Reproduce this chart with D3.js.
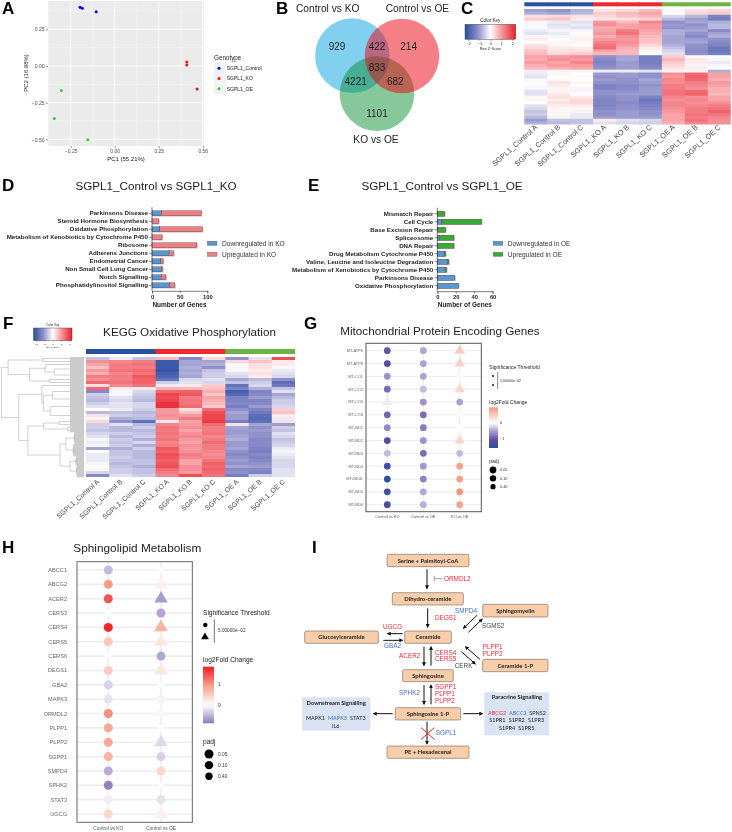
<!DOCTYPE html>
<html><head><meta charset="utf-8">
<script src="https://cdn.jsdelivr.net/npm/d3@7"></script>
<style>
html,body{margin:0;padding:0;background:#fff}
svg{display:block;filter:blur(.3px)}
text{font-family:"Liberation Sans",Arial,sans-serif}
</style></head><body><svg id="c" width="732" height="832"></svg>
<script>
// ---------- A: PCA
const pcaGroups=["SGPL1_Control","SGPL1_KO","SGPL1_OE"];
const pcaColors=["#0000ee","#ee1111","#33cc33"];
const pca1=[-0.197,-0.184,-0.105, 0.409,0.409,0.468, -0.303,-0.343,-0.153];
const pca2=[0.400,0.393,0.370, 0.027,0.007,-0.157, -0.166,-0.357,-0.502];
const pcaGroupIdx=[0,0,0,1,1,1,2,2,2];
const pcaXTicks=[-0.25,0,0.25,0.5];
const pcaYTicks=[-0.5,-0.25,0,0.25];
// ---------- B: Venn
const vennSets=["Control vs KO","Control vs OE","KO vs OE"];
const vennCounts=["929","422","214","833","4221","682","1101"];
// ---------- sample names
const samples=["SGPL1_Control A","SGPL1_Control B","SGPL1_Control C","SGPL1_KO A","SGPL1_KO B","SGPL1_KO C","SGPL1_OE A","SGPL1_OE B","SGPL1_OE C"];
// ---------- C: heatmap rows (z-scores, one row per 3 samples x 3 groups)
const heatC=[
[-1.0,-1.1,-0.8,0.3,0.4,0.7,0.1,0.3,0.4],
[-0.8,-0.9,-0.7,0.5,0.7,0.9,0.0,0.4,0.5],
[0.3,0.4,0.3,0.4,0.6,0.7,-0.4,-0.7,-1.3],
[0.5,0.6,0.2,0.2,0.3,0.4,-0.7,-1.0,-1.4],
[0.1,-0.2,-0.3,1.0,0.7,1.2,-1.1,-0.9,-0.8],
[-0.1,-0.3,-0.2,1.1,0.9,1.0,-1.0,-1.1,-0.7],
[0.05,-0.2,-0.3,0.8,0.9,1.0,-1.1,-1.0,-0.7],
[-0.2,-0.1,-0.1,0.9,1.3,0.9,-0.8,-0.9,-1.2],
[-0.3,-0.2,0.0,1.0,1.4,0.8,-0.8,-1.1,-0.9],
[0.1,-0.1,0.1,0.8,1.1,0.7,-0.9,-1.2,-0.8],
[0.2,0.0,0.15,1.0,1.0,0.6,-0.9,-1.0,-1.1],
[0.0,0.1,0.1,1.2,1.1,0.6,-0.9,-0.9,-1.2],
[0.3,0.1,0.0,1.4,1.0,0.4,-0.8,-1.1,-1.3],
[0.4,0.2,0.2,1.5,0.8,0.2,-0.6,-1.1,-1.5],
[0.6,0.3,0.3,0.9,0.7,0.1,-0.4,-1.2,-1.5],
[0.7,0.4,0.5,0.7,0.7,0.0,-0.3,-1.1,-1.4],
[0.9,1.0,1.1,-1.1,-0.9,-1.4,0.5,0.1,0.0],
[0.8,1.1,1.0,-1.2,-0.9,-1.4,0.7,0.2,-0.1],
[1.0,0.9,1.2,-1.3,-1.0,-1.4,0.5,0.2,-0.2],
[0.8,1.0,1.0,-1.2,-1.0,-1.3,0.4,0.1,-0.1],
[0.7,0.8,0.9,-1.1,-1.0,-1.2,0.3,0.2,0.0],
[0.2,0.1,0.1,-0.2,-0.2,-0.3,0.1,0.1,-0.8],
[-0.2,0.1,0.0,-1.0,-1.0,-1.1,1.1,1.5,0.9],
[-0.3,0.0,0.05,-1.1,-1.0,-1.1,1.0,1.6,0.9],
[-0.1,0.1,0.0,-1.0,-1.1,-0.9,1.2,1.5,0.8],
[0.0,0.3,0.1,-1.1,-1.1,-1.0,1.1,1.3,1.0],
[0.05,0.2,0.0,-1.3,-1.2,-1.1,1.3,1.2,0.9],
[-0.1,0.1,-0.1,-1.3,-1.2,-1.0,1.3,1.1,0.8],
[-0.3,0.1,-0.1,-1.1,-1.1,-1.0,1.4,1.5,0.8],
[-0.3,0.2,0.0,-1.1,-1.0,-1.0,1.4,1.6,0.7],
[0.1,0.3,0.2,-1.2,-1.1,-1.3,1.2,1.1,0.9],
[0.1,0.2,0.4,-1.3,-1.1,-1.5,1.1,1.2,0.9],
[0.0,0.3,0.4,-1.3,-1.2,-1.4,1.2,1.1,1.1],
[-0.3,0.2,0.2,-1.3,-1.1,-1.3,1.2,1.2,1.3],
[-0.4,0.1,0.1,-1.2,-1.1,-1.2,1.1,1.3,1.4],
[-0.6,0.1,-0.1,-1.1,-1.0,-1.1,1.0,1.3,1.6],
[-0.5,0.1,-0.2,-1.1,-1.0,-1.1,0.9,1.4,1.4],
[-0.7,-0.1,-0.2,-1.0,-1.0,-1.0,0.9,1.3,1.2],
[-1.0,-0.6,-0.6,0.2,-0.3,-0.4,0.9,1.4,1.1],
[-0.8,-0.7,-0.6,-0.3,-0.4,-0.5,0.8,1.2,1.1]];
// ---------- F: heatmap rows
const heatF=[
[-0.6,-0.2,-0.6,0.7,-1.2,0.4,-1.1,-0.3,1.8],
[1.1,1.2,1.3,-2.1,-0.9,-0.9,0.4,0.6,0.2],
[0.9,1.3,1.4,-2.1,-0.9,-0.8,0.1,0.3,0.2],
[0.6,1.3,1.3,-2.1,-0.8,-1.1,-0.1,0.3,0.1],
[1.0,1.4,1.5,-2.2,-0.9,-0.6,-0.1,0.2,-0.2],
[0.8,1.2,1.4,-2.0,-0.8,-0.5,-0.3,0.3,-0.3],
[1.3,1.3,1.7,-1.9,-0.9,-0.5,-0.4,0.2,-0.4],
[1.1,1.3,1.6,-1.6,-0.4,-0.3,-0.9,-0.7,-1.1],
[1.5,1.4,1.6,-0.5,-0.3,-0.4,-0.6,-0.5,-1.7],
[0.3,1.2,1.4,-0.2,0.2,0.5,-1.6,-0.4,-1.5],
[1.5,0.2,0.2,0.8,0.7,0.6,-1.3,-0.8,-0.6],
[-1.2,-0.1,-0.4,1.5,1.6,0.8,-2.0,-1.3,-0.3],
[-0.5,-0.1,-0.5,1.9,1.7,0.6,-1.8,-1.2,-0.9],
[-0.6,-0.3,-0.6,1.8,1.3,0.9,-1.3,-1.0,-0.7],
[-0.7,-0.4,-0.7,1.9,1.4,0.8,-1.3,-1.3,-0.5],
[-0.5,-0.3,-0.4,2.1,1.4,0.7,-1.2,-1.2,-0.5],
[-0.3,-0.3,-0.4,2.1,1.5,0.5,-1.4,-1.0,-0.4],
[0.0,-0.2,-0.5,1.0,0.3,1.5,-1.1,-1.3,0.5],
[-0.7,-0.6,-0.7,1.0,0.6,1.8,-0.9,-1.5,0.6],
[0.3,-0.5,-0.6,1.1,1.0,1.9,-1.0,-1.7,0.2],
[0.1,-0.8,-0.7,1.0,1.3,1.9,-1.0,-1.8,-0.2],
[0.4,-1.1,-1.7,0.2,0.9,2.0,-1.4,-1.7,0.3],
[-0.5,-0.3,-0.7,1.2,1.0,1.5,0.3,-0.9,-1.0],
[-0.5,-0.7,-0.5,1.4,1.1,1.3,-0.9,-1.1,-0.5],
[-0.6,-0.7,-0.7,1.3,0.9,1.3,-1.0,-1.0,-0.6],
[-0.4,-0.5,-0.6,1.4,1.1,1.4,-1.0,-1.1,-0.3],
[-0.3,-0.7,-0.5,1.3,1.2,1.2,-0.9,-1.1,-0.4],
[-0.1,-0.5,-0.8,1.4,1.0,1.3,-0.8,-1.2,-0.6],
[-0.2,-0.6,-0.4,1.2,0.9,1.5,-1.0,-1.2,-0.5],
[-0.1,-0.5,-0.8,1.3,1.1,1.3,-1.0,-1.2,-0.4],
[-0.9,-0.8,-0.5,1.7,1.0,1.3,-0.9,-1.3,-0.2],
[0.0,-0.6,-0.7,1.6,1.1,1.2,-1.1,-1.4,-0.1],
[-0.2,-0.6,-0.7,1.8,1.3,1.1,-1.2,-1.2,-0.2],
[-0.2,-0.5,-0.7,1.7,1.2,1.2,-1.1,-1.3,-0.3],
[-0.2,-0.6,-0.6,1.6,0.9,1.4,-1.0,-1.2,-0.4],
[-0.1,-0.7,-0.6,1.7,0.9,1.6,-1.1,-1.1,-0.4],
[0.0,-0.6,-0.8,1.8,1.1,1.5,-0.9,-1.0,-0.4],
[0.1,-0.5,-0.6,1.5,1.1,1.6,-1.2,-1.2,-0.3],
[-0.4,-0.5,-0.6,1.3,1.0,1.5,-1.1,-1.3,-0.3],
[-1.2,-0.3,-0.5,1.2,1.8,1.4,-1.4,-0.5,-0.3]];
// F dendrogram: [height, child, child], numeric leaf = number of rows (40 in total)
const dendroF=[1,
 [0.92,[0.5,1,1],[0.66,[0.47,1,[0.36,2,2]],[0.42,1,1]]],
 [0.79,[0.51,1,[0.49,[0.38,3,2],[0.41,3,3]]],
  [0.68,[0.49,[0.3,1,1],[0.2,1,1]],[0.29,[0.22,[0.12,2,2],[0.13,2,2]],[0.17,[0.1,2,1],[0.09,2,2]]]]]];
const heatTicks=[-2,-1,0,1,2];
const groupBarColors=["#2b4fa2","#ee2a2e","#6cb33f"];
// ---------- D / E: pathway bars
const pathD=["Parkinsons Disease","Steroid Hormone Biosynthesis","Oxidative Phosphorylation","Metabolism of Xenobiotics by Cytochrome P450","Ribosome","Adherens Junctions","Endometrial Cancer","Non Small Cell Lung Cancer","Notch Signalling","Phosphatidylinositol Signalling"];
const downD=[17,0,14,0,0,31,16,17,17,32];
const upD=[72,12,77,18,81,8,4,2,8,9];
const pathE=["Mismatch Repair","Cell Cycle","Base Excision Repair","Spliceosome","DNA Repair","Drug Metabolism Cytochrome P450","Valine, Leucine and Isoleucine Degradation","Metabolism of Xenobiotics by Cytochrome P450","Parkinsons Disease","Oxidative Phosphorylation"];
const downE=[0,5,0,2,0,7.5,11,8.5,19,23];
const upE=[8,43,9,16,18,1.5,1.5,1.5,0,0];
// ---------- G
const genesG=["MT-ATP6","MT-ATP8","MT-CO1","MT-CO2","MT-CO3","MT-CYB","MT-ND1","MT-ND2","MT-ND3","MT-ND4","MT-ND4L","MT-ND5","MT-ND6"];
const compG=["Control vs KO","Control vs OE","KO vs OE"];
const fcG1=[-1.0,-1.15,-0.6,-0.85,-0.1,-0.9,-0.65,-1.2,-0.35,-1.3,-1.5,-1.35,-1.25];
const fcG2=[-0.45,-0.5,-0.5,-0.35,-0.6,-0.85,-0.75,-0.6,-0.85,-0.55,-0.7,-0.45,-0.4];
const fcG3=[0.5,0.45,0.06,0.4,-0.5,0.05,0.0,0.4,-0.35,0.85,0.9,1.0,0.85];
const triG1=[0,0,0,0,1,0,0,0,0,0,0,0,0];
const triG2=[0,0,0,0,0,0,0,0,0,0,0,0,0];
const triG3=[1,1,0,1,0,0,0,1,0,0,0,0,0];
// ---------- H
const genesH=["ABCC1","ABCG2","ACER2","CERS3","CERS4","CERS5","CERS6","DEGS1","GBA2","MAPK3","ORMDL2","PLPP1","PLPP2","SGPP1","SMPD4","SPHK2","STAT3","UGCG"];
const compH=["Control vs KO","Control vs OE"];
const fcH1=[-0.45,0.95,1.45,0.01,1.8,0.55,0.0,0.5,-0.3,-0.2,1.05,0.85,0.85,0.75,-0.55,-0.85,-0.12,0.4];
const fcH2=[0.03,0.15,-0.65,-0.6,0.75,0.25,-0.6,0.25,-0.02,-0.07,-0.05,0.0,-0.25,-0.3,0.4,-0.03,-0.2,0.15];
const triH1=[0,0,0,0,0,0,0,0,0,0,0,0,0,0,0,0,0,0];
const triH2=[0,1,1,0,1,1,0,1,0,0,0,0,1,0,0,0,0,1];
const padjValues=["0.05","0.10","0.40"];
// ---------- I: pathway diagram
const nodeNames=["Serine + Palmitoyl-CoA","Dihydro-ceramide","Sphingomyelin","Glucosylceramide","Ceramide","Ceramide 1-P","Sphingosine","Sphingosine 1-P","PE + Hexadecenal"];
const nodeBoxes=[[291,73,537,110],[307,188,520,225],[578,223,774,261],[44,303,265,340],[344,303,484,340],[578,388,774,425],[338,419,490,455],[316,533,512,570],[291,648,537,685]];
const arrowLines=[[411,118,411,176],[413,235,413,292],[338,311,292,311],[280,331,338,331],[402,350,402,407],[423,407,423,350],[402,465,402,523],[423,523,423,465],[562,255,520,295],[535,307,577,267],[570,388,526,350],[514,365,556,402],[308,551,250,551],[520,551,578,551],[411,575,411,642]];
const enzymeNames=["ORMDL2","SMPD4","DEGS1","SGMS2","UGCG","GBA2","ACER2","CERS4","CERS5","PLPP1","PLPP2","CERK","SPHK2","SGPP1","PLPP1","PLPP2","SGPL1"];
const enzymeCls=["r","b","r","k","r","b","r","r","r","r","r","k","b","r","r","r","b"];
const enzymeAt=[[462,152],[495,248],[435,270],[576,294],[279,298],[282,354],[327,384],[435,375],[435,393],[578,356],[578,377],[494,415],[327,496],[435,477],[435,499],[435,520],[437,616]];
const sigGenes=["MAPK1","MAPK3","STAT3","IL6","ABCG2","ABCC1","SPNS2","S1PR1","S1PR2","S1PR3","S1PR4","S1PR5"];
const sigCls=["k","b","k","k","r","b","k","k","k","k","k","k"];
const sigAt=[[48,571],[114,571],[180,571],[126,595],[594,555],[657,555],[718,555],[598,577],[656,577],[714,577],[627,601],[685,601]];

const svg=d3.select("#c");
const defs=svg.append("defs");
const panelLetters=[["A",2,14],["B",276,14],["C",461,14],["D",2,190.5],["E",308,190.5],["F",3,329],["G",304,329],["H",2,553],["I",312,553]];
svg.selectAll("text.pl").data(panelLetters).join("text").attr("class","pl").attr("x",d=>d[1]).attr("y",d=>d[2]).attr("font-size",17).attr("font-weight","bold").attr("fill","#000").text(d=>d[0]);

function txt(g,x,y,s,size,opt={}){
  const t=g.append("text").attr("x",x).attr("y",y).attr("font-size",size).attr("fill",opt.fill||"#222").text(s);
  if(opt.anchor)t.attr("text-anchor",opt.anchor);
  if(opt.weight)t.attr("font-weight",opt.weight);
  if(opt.rot!=null)t.attr("transform",`rotate(${opt.rot},${x},${y})`);
  if(opt.family)t.style("font-family",opt.family);
  return t;
}

// ===== A
(function(){
  const g=svg.append("g");
  const x=d3.scaleLinear([-0.379,0.507],[48,204]);
  const y=d3.scaleLinear([-0.545,0.443],[146,1]);
  g.append("rect").attr("x",48).attr("y",1).attr("width",156).attr("height",145).attr("fill","#ebebeb");
  const minor=[-0.375,-0.125,0.125,0.375];
  g.selectAll("line.mx").data(minor).join("line").attr("class","mx").attr("x1",d=>x(d)).attr("x2",d=>x(d)).attr("y1",1).attr("y2",146).attr("stroke","#fff").attr("stroke-width",.35);
  g.selectAll("line.my").data(minor).join("line").attr("class","my").attr("y1",d=>y(d)).attr("y2",d=>y(d)).attr("x1",48).attr("x2",204).attr("stroke","#fff").attr("stroke-width",.35);
  g.selectAll("line.gx").data(pcaXTicks).join("line").attr("class","gx").attr("x1",d=>x(d)).attr("x2",d=>x(d)).attr("y1",1).attr("y2",146).attr("stroke","#fff").attr("stroke-width",.8);
  g.selectAll("line.gy").data(pcaYTicks).join("line").attr("class","gy").attr("y1",d=>y(d)).attr("y2",d=>y(d)).attr("x1",48).attr("x2",204).attr("stroke","#fff").attr("stroke-width",.8);
  const ax=g.append("g").attr("transform","translate(0,146)").call(d3.axisBottom(x).tickValues(pcaXTicks).tickSize(2).tickPadding(1.5).tickFormat(d3.format(".2f")));
  const ay=g.append("g").attr("transform","translate(48,0)").call(d3.axisLeft(y).tickValues(pcaYTicks).tickSize(2).tickPadding(1.5).tickFormat(d3.format(".2f")));
  [ax,ay].forEach(a=>{a.select(".domain").remove();a.selectAll("line").attr("stroke","#333").attr("stroke-width",.5);a.selectAll("text").attr("font-size",5).attr("fill","#4d4d4d");});
  g.selectAll("circle.p").data(pca1).join("circle").attr("class","p").attr("cx",d=>x(d)).attr("cy",(d,i)=>y(pca2[i])).attr("r",1.5).attr("fill",(d,i)=>pcaColors[pcaGroupIdx[i]]);
  txt(g,126,160.5,"PC1 (55.21%)",6,{anchor:"middle"});
  txt(g,28,73,"PC2 (16.98%)",6,{anchor:"middle",rot:-90});
  txt(g,214,60,"Genotype",6.3);
  g.append("rect").attr("x",214).attr("y",63).attr("width",12).attr("height",31).attr("fill","#f2f2f2");
  pcaGroups.forEach((s,i)=>{
    const ly=d3.scaleLinear([0,2],[68.3,88.7])(i);
    g.append("circle").attr("cx",219).attr("cy",ly).attr("r",1.5).attr("fill",pcaColors[i]);
    txt(g,226.7,ly+1.8,s,5);
  });
})();

// ===== B
(function(){
  const g=svg.append("g");
  const circles=[[247,167,"#82d0f0",1],[321,281,"#048c2e",.48],[396,168,"#eb000f",.5]];
  g.selectAll("circle").data(circles).join("circle").attr("cx",d=>270+d[0]/3).attr("cy",d=>d[1]/3).attr("r",37.3).attr("fill",d=>d[2]).attr("opacity",d=>d[3]);
  const at=[[201,138],[321,138],[416,138],[321,202],[257,245],[376,245],[321,341]];
  vennCounts.forEach((s,i)=>txt(g,270+at[i][0]/3,at[i][1]/3+3.6,s,10,{anchor:"middle",fill:"#222"}));
  txt(g,296,11.8,vennSets[0],10.2);
  txt(g,385.7,11.8,vennSets[1],10.2);
  txt(g,376,143,vennSets[2],10.2,{anchor:"middle"});
})();

// Heat colours
const heatColor=d3.scaleLinear([-2.3,-1.15,0,1.15,2.3],["#2b4fa2","#8b8cc8","#ffffff","#f58a90","#e8202a"]).clamp(true);

function gradient(id,scale,domainTop,domainBottom){
  const lg=defs.append("linearGradient").attr("id",id).attr("x1",0).attr("x2",0).attr("y1",0).attr("y2",1);
  d3.range(0,1.001,.05).forEach(t=>{
    lg.append("stop").attr("offset",t).attr("stop-color",scale(domainTop+(domainBottom-domainTop)*t));
  });
}
function colorKey(g,x0,x1,y0,y1,fTitle,fTick,dy){
  const lg=defs.append("linearGradient").attr("id","hk"+Math.round(x0)).attr("x1",0).attr("x2",1);
  d3.range(0,1.001,.05).forEach(t=>lg.append("stop").attr("offset",t).attr("stop-color",heatColor(-2.3+4.6*t)));
  g.append("rect").attr("x",x0).attr("y",y0).attr("width",x1-x0).attr("height",y1-y0).attr("fill",`url(#hk${Math.round(x0)})`).attr("stroke","#333").attr("stroke-width",.4);
  const sc=d3.scaleLinear([-2.3,2.3],[x0,x1]);
  const a=g.append("g").attr("transform",`translate(0,${y1})`).call(d3.axisBottom(sc).tickValues(heatTicks).tickSize(dy*.35).tickPadding(dy*.25).tickFormat(d=>d3.format("d")(d).replace("-","−")));
  a.select(".domain").remove();a.selectAll("line").attr("stroke","#333").attr("stroke-width",.35);a.selectAll("text").attr("font-size",fTick).attr("fill","#333");
  txt(g,(x0+x1)/2,y0-dy*.55,"Color Key",fTitle,{anchor:"middle"});
  txt(g,(x0+x1)/2,y1+dy*2.1,"Row Z−Score",fTick*.9,{anchor:"middle"});
}
function heatmap(g,rows,x0,x1,yBar0,yBar1,y0,y1,labelY,fs,labelDx){
  const x=d3.scaleBand(d3.range(9),[x0,x1]);
  const y=d3.scaleBand(d3.range(rows.length),[y0,y1]);
  g.selectAll("rect.b").data(d3.range(9)).join("rect").attr("class","b").attr("x",d=>x(d)).attr("width",d=>x.bandwidth()+(d<8?.8:0)).attr("y",yBar0).attr("height",yBar1-yBar0).attr("fill",d=>groupBarColors[Math.floor(d/3)]);
  rows.forEach((r,i)=>{
    g.selectAll(null).data(r).join("rect").attr("x",(d,j)=>x(j)).attr("y",y(i)).attr("width",(d,j)=>x.bandwidth()+(j<8?.8:0)).attr("height",y.bandwidth()+(i<rows.length-1?.8:0)).attr("fill",d=>heatColor(d));
  });
  samples.forEach((s,i)=>txt(g,x(i)+x.bandwidth()/2+labelDx,labelY,s,fs,{anchor:"end",rot:-42,fill:"#444"}));
  return y;
}

// ===== C
(function(){
  const g=svg.append("g");
  colorKey(g,465,515.7,24.3,39.3,4.6,3.9,5);
  heatmap(g,heatC,524.3,730.7,2.3,6.3,9,124.5,128,7.3,2);
})();

// ===== D,E
function bars(g,names,down,up,axisX,maxV,ticks,upColor,legend,legX,rowY0,title,titleX){
  const x=d3.scaleLinear([0,maxV],[axisX,axisX+55.3]);
  const y=d3.scalePoint(names,[rowY0,rowY0+72]);
  txt(g,titleX,190,title,11.7,{anchor:"middle"});
  names.forEach((n,i)=>{
    const yy=y(n), tot=down[i]+up[i];
    g.append("rect").attr("x",axisX).attr("y",yy-2).attr("width",x(tot)-axisX+1).attr("height",5.2).attr("fill","#bbb");
    if(down[i]>0)g.append("rect").attr("x",axisX).attr("y",yy-2.5).attr("width",x(down[i])-axisX).attr("height",5).attr("fill","#5b96d2").attr("stroke","#335").attr("stroke-width",.35);
    if(up[i]>0)g.append("rect").attr("x",x(down[i])).attr("y",yy-2.5).attr("width",x(tot)-x(down[i])).attr("height",5).attr("fill",upColor).attr("stroke","#533").attr("stroke-width",.35);
    g.append("line").attr("x1",axisX-3).attr("x2",axisX).attr("y1",yy).attr("y2",yy).attr("stroke","#222").attr("stroke-width",.5);
    txt(g,axisX-4,yy+2.1,n,6.2,{anchor:"end",weight:"bold",fill:"#222"});
  });
  g.append("line").attr("x1",axisX).attr("x2",axisX).attr("y1",rowY0-6).attr("y2",rowY0+77.5).attr("stroke","#222").attr("stroke-width",.6);
  const a=g.append("g").attr("transform",`translate(0,${rowY0+77.5})`).call(d3.axisBottom(x).tickValues(ticks).tickSize(2.5).tickPadding(1.5));
  a.select(".domain").attr("stroke","#222").attr("stroke-width",.6);
  a.selectAll("line").attr("stroke","#222").attr("stroke-width",.5);
  a.selectAll("text").attr("font-size",5.8).attr("font-weight","bold").attr("fill","#222");
  txt(g,axisX+27.5,rowY0+93.5,"Number of Genes",6.5,{anchor:"middle",weight:"bold"});
  legend.forEach((s,i)=>{
    const ly=243.3+i*11;
    g.append("rect").attr("x",legX).attr("y",ly-2).attr("width",9.5).attr("height",4).attr("fill",i?upColor:"#5b96d2").attr("stroke","#444").attr("stroke-width",.35);
    txt(g,legX+14.5,ly+2.2,s,6.6,{fill:"#333"});
  });
}
bars(svg.append("g"),pathD,downD,upD,152,100,[0,50,100],"#ef7f86",["Downregulated in KO","Upregulated in KO"],207.5,213.3,"SGPL1_Control vs SGPL1_KO",156);
bars(svg.append("g"),pathE,downE,upE,437.3,60,[0,20,40,60],"#3aaa35",["Downregulated in OE","Upregulated in OE"],493.3,213.7,"SGPL1_Control vs SGPL1_OE",442);

// ===== F
(function(){
  const g=svg.append("g");
  colorKey(g,33.5,72,328,340.7,3,2.5,3.6);
  txt(g,189.5,336,"KEGG Oxidative Phosphorylation",11.7,{anchor:"middle"});
  const y=heatmap(g,heatF,86,295,349,354,357,477,482.5,6.9,2);
  const hx=d3.scaleLinear([0,1],[84,1.5]);
  let row=0;
  const dg=g.append("g");
  function draw(n){
    if(typeof n==="number"){
      const y0=y(row),h=y.bandwidth()*n; row+=n;
      return {leaf:true,y0:y0,y1:y0+h,y:y0+h/2};
    }
    const a=draw(n[1]),b=draw(n[2]);
    const xn=hx(n[0]);
    [a,b].forEach(c=>{
      if(c.leaf){
        const s=hx(Math.min(n[0],.17));
        dg.append("rect").attr("x",s).attr("y",c.y0).attr("width",84-s).attr("height",c.y1-c.y0+.3).attr("fill","#cbcbcb");
        dg.append("line").attr("x1",xn).attr("x2",s).attr("y1",c.y).attr("y2",c.y).attr("stroke","#8a8a8a").attr("stroke-width",.4);
      } else {
        dg.append("line").attr("x1",xn).attr("x2",hx(c.h)).attr("y1",c.y).attr("y2",c.y).attr("stroke","#8a8a8a").attr("stroke-width",.4);
      }
    });
    dg.append("line").attr("x1",xn).attr("x2",xn).attr("y1",a.y).attr("y2",b.y).attr("stroke","#8a8a8a").attr("stroke-width",.4);
    return {y:(a.y+b.y)/2,h:n[0]};
  }
  draw(dendroF);
})();

// ===== G/H dot plots
function shape(sel,x,y,r,tri,color){
  const area=tri?Math.PI*r*r*1.25:Math.PI*r*r;
  sel.append("path").attr("d",d3.symbol(tri?d3.symbolTriangle:d3.symbolCircle,area)()).attr("transform",`translate(${x},${y})`).attr("fill",color);
}
function dotPlot(g,genes,comps,fcs,tris,frame,rowRange,colXs,sizeFn,color,labelX,fsRow,fsCol,colY,gridW){
  const y=d3.scalePoint(genes,rowRange);
  const x=d3.scaleOrdinal(comps,colXs);
  genes.forEach(n=>g.append("line").attr("x1",frame[0]).attr("x2",frame[1]).attr("y1",y(n)).attr("y2",y(n)).attr("stroke","#eeeeee").attr("stroke-width",gridW));
  comps.forEach(c=>g.append("line").attr("x1",x(c)).attr("x2",x(c)).attr("y1",frame[2]).attr("y2",frame[3]).attr("stroke","#eeeeee").attr("stroke-width",gridW));
  genes.forEach((n,i)=>{
    txt(g,labelX,y(n)+fsRow*.36,n,fsRow,{anchor:"end",fill:"#666"});
    comps.forEach((c,j)=>shape(g,x(c),y(n),sizeFn(fcs[j][i]),tris[j][i],color(fcs[j][i])));
  });
  g.append("rect").attr("x",frame[0]).attr("y",frame[2]).attr("width",frame[1]-frame[0]).attr("height",frame[3]-frame[2]).attr("fill","none").attr("stroke","#555").attr("stroke-width",frame[4]);
  comps.forEach(c=>txt(g,x(c),colY,c,fsCol,{anchor:"middle",fill:"#555"}));
}
const colorG=d3.scaleLinear([-1.55,-1.05,-0.45,0,1.1],["#2b4fa2","#5e4ea3","#b3a6d6","#ffffff","#f58a6e"]);
const colorH=d3.scaleLinear([-0.88,0,0.9,1.85],["#8f79bd","#ffffff","#f6a48f","#ea1f25"]);
// G
(function(){
  const g=svg.append("g");
  txt(g,440,335,"Mitochondrial Protein Encoding Genes",11.7,{anchor:"middle"});
  dotPlot(g,genesG,compG,[fcG1,fcG2,fcG3],[triG1,triG2,triG3],[366,481.3,343.3,511.7,1],[350.7,504.7],[387.3,423.3,459.7],()=>3.4,colorG,363,3.9,3.9,518,1.3);
  txt(g,489.3,369,"Significance Threshold",5);
  g.append("circle").attr("cx",493).attr("cy",376).attr("r",.9).attr("fill","#000");
  g.append("circle").attr("cx",493).attr("cy",385).attr("r",.9).attr("fill","#000");
  g.append("line").attr("x1",497.7).attr("x2",497.7).attr("y1",372).attr("y2",389).attr("stroke","#333").attr("stroke-width",.6);
  txt(g,500,381.7,"5.00000e−02",3.6,{fill:"#333"});
  txt(g,489.3,403.5,"log2Fold Change",5);
  const dom=[0.98,-1.55];
  gradient("gG",colorG,dom[0],dom[1]);
  g.append("rect").attr("x",489).attr("y",407.3).attr("width",9).attr("height",40.7).attr("fill","url(#gG)");
  const ls=d3.scaleLinear([-1.55,0.98],[448,407.3]);
  [[0,"0"],[-1,"−1"]].forEach(d=>txt(g,500,ls(d[0])+1.3,d[1],3.8,{fill:"#333"}));
  txt(g,489.3,463,"padj",5);
  padjValues.forEach((s,i)=>{
    const yy=d3.scaleLinear([0,2],[470,486.7])(i);
    g.append("circle").attr("cx",493).attr("cy",yy).attr("r",[3.4,3.2,2.6][i]).attr("fill","#000");
    txt(g,500,yy+1.3,s,3.8,{fill:"#333"});
  });
})();
// H
(function(){
  const g=svg.append("g");
  txt(g,137.3,552,"Sphingolipid Metabolism",11.8,{anchor:"middle"});
  dotPlot(g,genesH,compH,[fcH1,fcH2],[triH1,triH2],[77,192.3,561.7,822.3,.9],[570,814],[108.3,161],v=>Math.abs(v)<0.04?3:4.5,colorH,67,5.6,4.8,829.5,1.6);
  txt(g,203,615,"Significance Threshold",6.6,{fill:"#222"});
  g.append("circle").attr("cx",205.3).attr("cy",625).attr("r",2.2).attr("fill","#000");
  shape(g,205,637,2.6,true,"#000");
  g.append("line").attr("x1",214.3).attr("x2",214.3).attr("y1",619.3).attr("y2",642.7).attr("stroke","#333").attr("stroke-width",.7);
  txt(g,218,632.3,"5.00000e−02",4.7,{fill:"#333"});
  txt(g,203,662.3,"log2Fold Change",6.6);
  gradient("gH",colorH,1.85,-0.88);
  g.append("rect").attr("x",203).attr("y",666.7).attr("width",11).attr("height",56.6).attr("fill","url(#gH)");
  const ls=d3.scaleLinear([-0.88,1.85],[723.3,666.7]);
  [[0,"0"],[1,"1"]].forEach(d=>txt(g,218,ls(d[0])+1.7,d[1],4.8,{fill:"#333"}));
  txt(g,203,743.8,"padj",6.6);
  padjValues.forEach((s,i)=>{
    const yy=d3.scaleLinear([0,2],[754,776.3])(i);
    g.append("circle").attr("cx",209).attr("cy",yy).attr("r",[4.5,4.2,3.7][i]).attr("fill","#000");
    txt(g,218,yy+1.7,s,4.8,{fill:"#333"});
  });
})();

// ===== I
(function(){
  const g=svg.append("g");
  const X=d3.scaleLinear([0,870],[290,580]),Y=d3.scaleLinear([0,810],[530,800]);
  defs.append("marker").attr("id","ah").attr("viewBox","0 0 6 6").attr("refX",5).attr("refY",3).attr("markerWidth",4).attr("markerHeight",4).attr("orient","auto").attr("markerUnits","userSpaceOnUse").append("path").attr("d","M0,0L6,3L0,6Z").attr("fill","#111");
  const lato={family:'Lato,"Open Sans",sans-serif'};
  [[36,502,241,602,"Downstream Signalling",138.5,525],[583,487,777,616,"Paracrine Signalling",681,508]].forEach(b=>{
    g.append("rect").attr("x",X(b[0])).attr("y",Y(b[1])).attr("width",X(b[2])-X(b[0])).attr("height",Y(b[3])-Y(b[1])).attr("fill","#dae3f3");
    txt(g,X(b[5]),Y(b[6]),b[4],5.8,{anchor:"middle",weight:"bold",fill:"#222",...lato});
  });
  sigGenes.forEach((s,i)=>txt(g,X(sigAt[i][0]),Y(sigAt[i][1]),s,5.5,{fill:{k:"#222",b:"#4472c4",r:"#ee2a3a"}[sigCls[i]],...lato}));
  nodeNames.forEach((s,i)=>{
    const b=nodeBoxes[i];
    g.append("rect").attr("x",X(b[0])).attr("y",Y(b[1])).attr("width",X(b[2])-X(b[0])).attr("height",Y(b[3])-Y(b[1])).attr("rx",1.5).attr("fill","#f8cdaa").attr("stroke","#6f655c").attr("stroke-width",.6);
    txt(g,(X(b[0])+X(b[2]))/2,(Y(b[1])+Y(b[3]))/2+2,s,5.9,{anchor:"middle",weight:"bold",fill:"#222",...lato});
  });
  arrowLines.forEach(a=>g.append("line").attr("x1",X(a[0])).attr("y1",Y(a[1])).attr("x2",X(a[2])).attr("y2",Y(a[3])).attr("stroke","#111").attr("stroke-width",1).attr("marker-end","url(#ah)"));
  g.append("line").attr("x1",X(433)).attr("x2",X(458)).attr("y1",Y(146)).attr("y2",Y(146)).attr("stroke","#666").attr("stroke-width",.6);
  g.append("line").attr("x1",X(433)).attr("x2",X(433)).attr("y1",Y(137)).attr("y2",Y(155)).attr("stroke","#666").attr("stroke-width",.6);
  [[393,593,433,628],[393,628,433,593]].forEach(a=>g.append("line").attr("x1",X(a[0])).attr("y1",Y(a[1])).attr("x2",X(a[2])).attr("y2",Y(a[3])).attr("stroke","#ee1c25").attr("stroke-width",1));
  enzymeNames.forEach((s,i)=>txt(g,X(enzymeAt[i][0]),Y(enzymeAt[i][1]),s,6.4,{fill:{k:"#444",b:"#4472c4",r:"#ee2a3a"}[enzymeCls[i]]}));
})();
</script></body></html>
